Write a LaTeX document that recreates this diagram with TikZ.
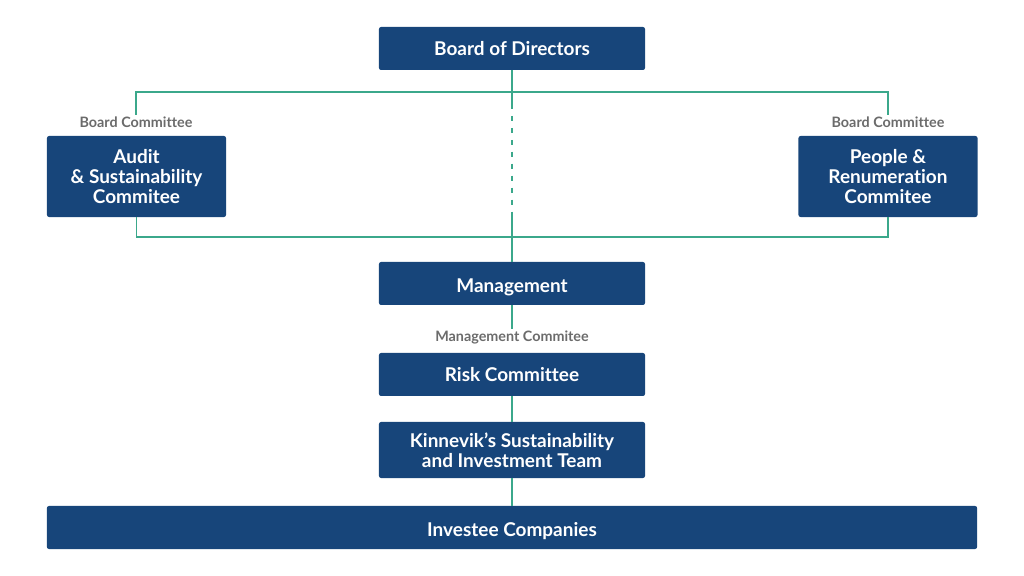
\documentclass[tikz,border=0pt]{standalone}
\usepackage{fontspec}
\setmainfont{Lato}[RawFeature=-liga]
\usepackage{tikz}
\usetikzlibrary{positioning}

\definecolor{boxblue}{HTML}{17457A}
\definecolor{linkgreen}{HTML}{3BA88B}
\definecolor{lblgray}{HTML}{6B6B6B}
\newcommand{\lowered}[1]{\raisebox{-2.6pt}[\height][\depth]{#1}}

\begin{document}
\begin{tikzpicture}[x=0.025cm, y=0.025cm,
	unit/.style={fill=boxblue, text=white, rounded corners=1.5pt, align=center, inner sep=0pt,
		font=\fontsize{13.5}{14.3}\selectfont\bfseries, minimum width=6.65cm, minimum height=1.075cm},
	committee/.style={unit, minimum width=4.475cm, minimum height=2.025cm},
	lbl/.style={text=lblgray, font=\fontsize{10.2}{12}\selectfont\bfseries, inner sep=1pt},
	link/.style={draw=linkgreen, line width=0.9pt}]
	\useasboundingbox (0,0) rectangle (1024,576);
	% boxes
	\node[unit] (board) at (512,527.5) {Board of Directors};
	\node[committee] (audit) at (136.5,399.5) {Audit\\\& Sustainability\\Commitee};
	\node[committee] (people) at (888,399.5) {People \&\\Renumeration\\Commitee};
	\node[unit] (mgmt) at (512,292.5) {\lowered{Management}};
	\node[unit] (risk) at (512,201.5) {Risk Committee};
	\node[unit, minimum height=1.4cm] (team) at (512,126) {Kinnevik's Sustainability\\and Investment Team};
	\node[unit, minimum width=23.25cm] (investee) at (512,48.5) {\lowered{Investee Companies}};
	% labels
	\node[lbl] (auditLbl) at (136,454) {Board Committee};
	\node[lbl] (peopleLbl) at (888,454) {Board Committee};
	\node[lbl] (mgmtLbl) at (512,239) {Management Commitee};
	% links
	\coordinate (topBar) at (512,484);
	\coordinate (botBar) at (512,339);
	\coordinate (dashA) at (512,467);
	\coordinate (dashB) at (512,361);
	\draw[link] (auditLbl.north) |- (topBar) -| (peopleLbl.north);
	\draw[link] (audit.south) |- (botBar) -| (people.south);
	\draw[link] (board.south) -- (dashA);
	\draw[link, dash pattern=on 3.6pt off 4.9pt, dash phase=-4.9pt] (dashA) -- (dashB);
	\draw[link] (dashB) -- (mgmt.north);
	\draw[link] (mgmt.south) -- (mgmtLbl.north);
	\draw[link] (risk.south) -- (team.north);
	\draw[link] (team.south) -- (investee.north);
\end{tikzpicture}
\end{document}
